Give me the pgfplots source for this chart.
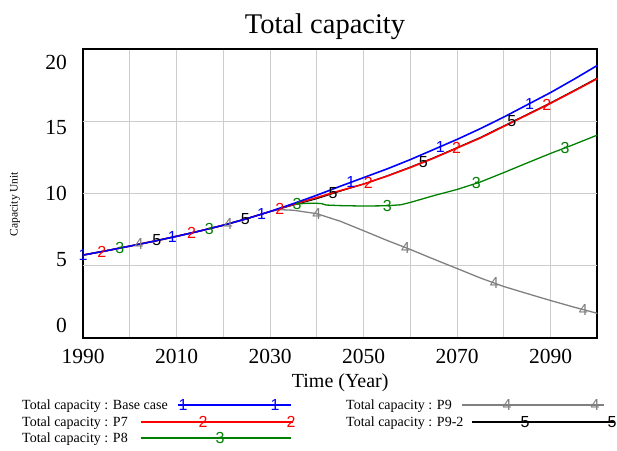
\documentclass[border=0pt]{standalone}
\usepackage{fontspec}
\setmainfont{Liberation Serif}
\setsansfont{Liberation Sans}
\usepackage{pgfplots}
\usepackage{pgfplotstable}
\pgfplotsset{compat=1.18}

\definecolor{vblue}{RGB}{0,0,255}
\definecolor{vred}{RGB}{255,0,0}
\definecolor{vgreen}{RGB}{0,128,0}
\definecolor{vgray}{RGB}{128,128,128}
\definecolor{gridgray}{RGB}{205,205,205}

\newcommand\fs[1]{\fontsize{#1}{#1}\selectfont}

% Total capacity by scenario (Capacity Unit)
\pgfplotstableread{
year cap
1990 5.73
1995 6.03
2000 6.35
2005 6.68
2010 7.03
2015 7.40
2020 7.80
2025 8.25
2030 8.75
2035 9.30
2040 9.88
2045 10.50
2050 11.10
2055 11.70
2060 12.35
2065 13.05
2070 13.75
2075 14.50
2080 15.30
2085 16.15
2090 17.00
2095 17.92
2100 18.88
}\basecase

\pgfplotstableread{
year cap
1990 5.73
1995 6.03
2000 6.35
2005 6.68
2010 7.03
2015 7.40
2020 7.80
2025 8.25
2030 8.75
2035 9.25
2040 9.72
2045 10.20
2050 10.65
2055 11.20
2060 11.80
2065 12.45
2070 13.15
2075 13.85
2080 14.65
2085 15.45
2090 16.25
2095 17.10
2100 17.96
}\pseven

\pgfplotstableread{
year cap
1990 5.73
1995 6.03
2000 6.35
2005 6.68
2010 7.03
2015 7.40
2020 7.80
2025 8.25
2030 8.75
2032 8.95
2034 9.15
2036 9.28
2038 9.32
2040 9.32
2041 9.30
2042 9.20
2045 9.16
2050 9.13
2055 9.15
2058 9.22
2060 9.38
2065 9.85
2070 10.28
2075 10.80
2080 11.45
2085 12.12
2090 12.78
2095 13.40
2100 14.05
}\peight

\pgfplotstableread{
year cap
1990 5.73
1995 6.03
2000 6.35
2005 6.68
2010 7.03
2015 7.40
2020 7.80
2025 8.25
2030 8.75
2032 8.88
2035 8.84
2040 8.60
2045 8.08
2050 7.42
2055 6.75
2060 6.12
2065 5.45
2070 4.80
2075 4.14
2080 3.55
2085 3.06
2090 2.58
2095 2.12
2100 1.69
}\pnine

\pgfplotstableread{
year cap
1990 5.73
1995 6.03
2000 6.35
2005 6.68
2010 7.03
2015 7.40
2020 7.80
2025 8.25
2030 8.75
2035 9.20
2040 9.64
2045 10.16
2050 10.66
2055 11.22
2060 11.83
2065 12.48
2070 13.18
2075 13.89
2080 14.69
2085 15.49
2090 16.29
2095 17.14
2100 18.01
}\pninetwo

\begin{document}
\begin{tikzpicture}[x=1pt,y=1pt]
\path[use as bounding box] (0,0) rectangle (617,450);

\begin{axis}[
  at={(83pt,112.3pt)}, anchor=south west,
  scale only axis, width=514.3pt, height=288.4pt,
  xmin=1990, xmax=2100, ymin=0, ymax=20,
  clip=false,
  axis line style={line width=2pt, black},
  tick style={draw=none},
  major tick length=0pt, minor tick length=0pt,
  xtick={1990,2010,2030,2050,2070,2090},
  xticklabels={1990,2010,2030,2050,2070,2090},
  minor xtick={2000,2020,2040,2060,2080},
  xmajorgrids, xminorgrids,
  ytick={0.83,5.45,10,14.59,19.11},
  yticklabels={0,5,10,15,20},
  extra y ticks={5,10,15},
  extra y tick labels={},
  extra y tick style={ymajorgrids=true},
  major grid style={gridgray, line width=1pt},
  minor grid style={gridgray, line width=1pt},
  xticklabel style={font=\fs{21.5}, anchor=base, yshift=-25.6pt, inner sep=0pt},
  yticklabel style={font=\fs{21.5}, anchor=east, xshift=-16pt, inner sep=0pt},
  every axis plot/.append style={line join=round},
  text mark as node=true,
]
% drawn from last scenario to first, so the base case lies on top
\addplot[black, line width=1.1pt, no marks] table[x=year, y=cap] {\pninetwo};
\addplot[vgray, line width=1.3pt, no marks] table[x=year, y=cap] {\pnine};
\addplot[vgreen, line width=1.3pt, no marks] table[x=year, y=cap] {\peight};
\addplot[vred, line width=1.6pt, no marks] table[x=year, y=cap] {\pseven};
\addplot[vblue, line width=1.6pt, no marks] table[x=year, y=cap] {\basecase};

% numbered series markers
\addplot[black, only marks, mark=text, text mark={5},
  text mark style={font=\sffamily\fs{16}, inner sep=0pt}]
  coordinates {(2005.8,6.74) (2024.7,8.22) (2043.5,10.0) (2062.8,12.2) (2081.7,14.99)};
\addplot[vgray, only marks, mark=text, text mark={4},
  text mark style={font=\sffamily\fs{16}, inner sep=0pt}]
  coordinates {(2002,6.48) (2021.1,7.9) (2040,8.6) (2059,6.25) (2078,3.79) (2097,1.95)};
\addplot[vgreen, only marks, mark=text, text mark={3},
  text mark style={font=\sffamily\fs{16}, inner sep=0pt}]
  coordinates {(1997.9,6.22) (2017,7.56) (2035.8,9.25) (2055.1,9.15) (2074.1,10.71) (2093.1,13.16)};
\addplot[vred, only marks, mark=text, text mark={2},
  text mark style={font=\sffamily\fs{16}, inner sep=0pt}]
  coordinates {(1994,5.97) (2013.2,7.27) (2032.1,8.96) (2051,10.76) (2069.9,13.14) (2089.2,16.12)};
\addplot[vblue, only marks, mark=text, text mark={1},
  text mark style={font=\sffamily\fs{16}, inner sep=0pt}]
  coordinates {(1990,5.73) (2009.1,6.97) (2028.2,8.57) (2047.3,10.78) (2066.4,13.25) (2085.5,16.24)};
\end{axis}

% titles
\node[anchor=base, font=\fs{28.5}, inner sep=0pt] at (325,416.3) {Total capacity};
\node[anchor=base, font=\fs{20}, inner sep=0pt] at (340.2,62.5) {Time (Year)};
\node[rotate=90, font=\fs{11.5}, inner sep=0pt] at (15,246) {Capacity Unit};

% legend
\begin{scope}[every node/.style={inner sep=0pt}]
  \node[anchor=base west, font=\fs{14}] at (22,40.3) {Total capacity : Base case};
  \node[anchor=base west, font=\fs{14}] at (22,23.8) {Total capacity : P7};
  \node[anchor=base west, font=\fs{14}] at (22,7.3) {Total capacity : P8};
  \node[anchor=base west, font=\fs{14}] at (346,40.3) {Total capacity : P9};
  \node[anchor=base west, font=\fs{14}] at (346,23.8) {Total capacity : P9-2};

  \draw[vblue, line width=1.6pt] (178,45) -- (291,45);
  \draw[vred, line width=1.6pt] (141,28) -- (293,28);
  \draw[vgreen, line width=1.3pt] (141,12) -- (291,12);
  \draw[vgray, line width=1.3pt] (462,45) -- (604,45);
  \draw[black, line width=1.3pt] (472,28) -- (614,28);

  \node[font=\sffamily\fs{16}, text=vblue] at (183,45) {1};
  \node[font=\sffamily\fs{16}, text=vblue] at (275,45) {1};
  \node[font=\sffamily\fs{16}, text=vred] at (203,28) {2};
  \node[font=\sffamily\fs{16}, text=vred] at (291,28) {2};
  \node[font=\sffamily\fs{16}, text=vgreen] at (220,12) {3};
  \node[font=\sffamily\fs{16}, text=vgray] at (507,45) {4};
  \node[font=\sffamily\fs{16}, text=vgray] at (595,45) {4};
  \node[font=\sffamily\fs{16}, text=black] at (525,28) {5};
  \node[font=\sffamily\fs{16}, text=black] at (612,28) {5};
\end{scope}
\end{tikzpicture}
\end{document}
